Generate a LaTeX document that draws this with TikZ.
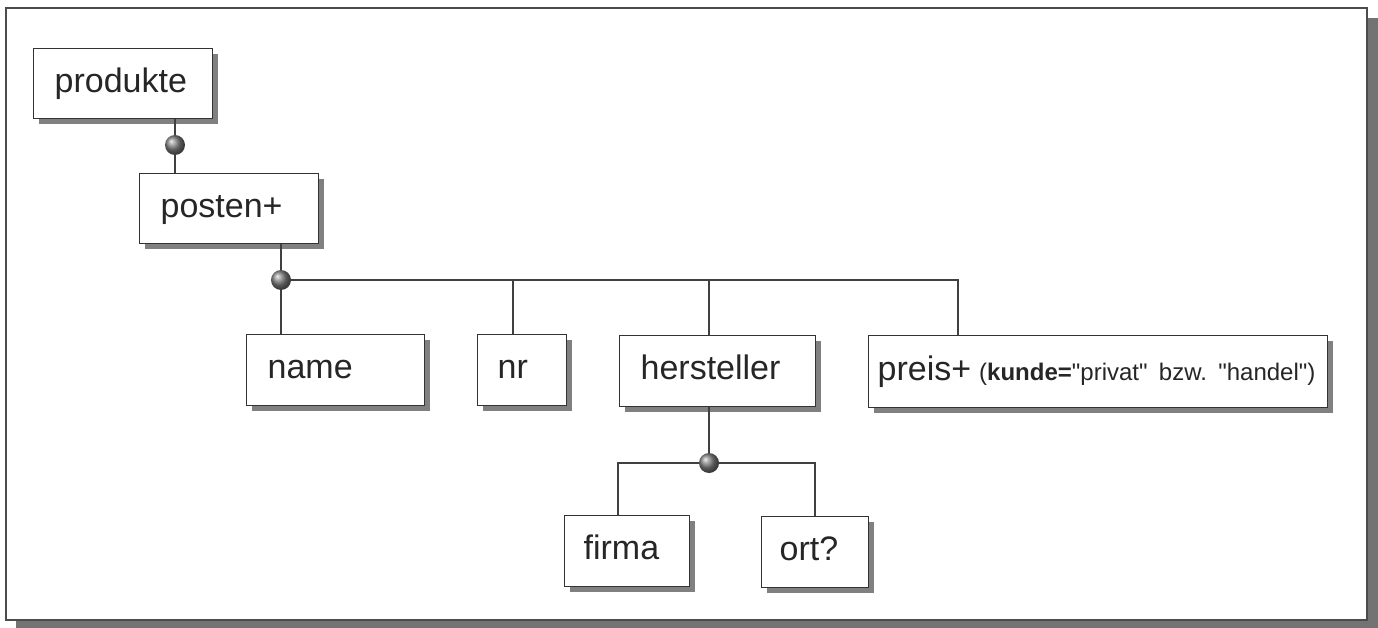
\documentclass[tikz,border=0pt]{standalone}
\usepackage{fontspec}
\newfontfamily\lab{Liberation Sans}
\usetikzlibrary{shadows}
\frenchspacing
\begin{document}
\begin{tikzpicture}[x=1pt,y=-1pt,
  elbox/.style={draw=black!80, line width=1.3pt, fill=white, rectangle, anchor=north west,
    inner ysep=0pt, inner xsep=21pt, align=left, text=black!85,
    font=\lab\fontsize{34}{40}\selectfont, text height=24pt, text depth=7pt,
    drop shadow={shadow xshift=5pt, shadow yshift=-5pt, fill=black!50, opacity=1}},
  conn/.style={draw=black!75, line width=1.4pt},
  ballj/.style={shading=ball, ball color=black!50}]
\useasboundingbox (0,0) rectangle (1378,628);
% outer frame with shadow
\fill[black!55] (16,18) rectangle (1378,628);
\draw[fill=white, draw=black!70, line width=1.5pt] (6,8) rectangle (1367,620);
% element boxes
\node[elbox, minimum width=179pt, minimum height=70pt, text width=137pt] (produkte) at (33,48) {produkte};
\node[elbox, minimum width=179pt, minimum height=70pt, text width=137pt] (posten) at (139,173) {posten+};
\node[elbox, minimum width=178pt, minimum height=71pt, text width=136pt] (name) at (246,334) {name};
\node[elbox, minimum width=89pt, minimum height=71pt, text width=49pt, inner xsep=20pt] (nr) at (477,334) {nr};
\node[elbox, minimum width=196pt, minimum height=71pt, text width=154pt] (hersteller) at (619,335) {hersteller};
\node[elbox, minimum width=459pt, minimum height=72pt, text width=441pt, inner xsep=9pt] (preis) at (868,335)
  {\mbox{preis+\hspace{8pt}{\fontsize{24}{28}\selectfont(\textbf{kunde=}"privat" bzw. "handel")}}};
\node[elbox, minimum width=125pt, minimum height=71pt, text width=87pt, inner xsep=19pt] (firma) at (564,515) {firma};
\node[elbox, minimum width=107pt, minimum height=71pt, text width=71pt, inner xsep=18pt] (ort) at (761,516) {ort?};
% junction points
\coordinate (j1) at (175,145);
\coordinate (j2) at (281,280);
\coordinate (c2) at (513,280);
\coordinate (c3) at (709,280);
\coordinate (c4) at (958,280);
\coordinate (j3) at (709,463);
\coordinate (f1) at (618,463);
\coordinate (o1) at (815,463);
% connectors
\draw[conn] (produkte.south -| j1) -- (j1) -- (posten.north -| j1);
\draw[conn] (posten.south -| j2) -- (j2) -- (name.north -| j2);
\draw[conn] (j2) -- (c4) -- (c4 |- preis.north);
\draw[conn] (c2) -- (c2 |- nr.north);
\draw[conn] (c3) -- (c3 |- hersteller.north);
\draw[conn] (hersteller.south -| j3) -- (j3);
\draw[conn] (f1 |- firma.north) -- (f1) -- (o1) -- (o1 |- ort.north);
% balls
\shade[ballj] (j1) circle (10pt);
\shade[ballj] (j2) circle (10pt);
\shade[ballj] (j3) circle (10pt);
\end{tikzpicture}
\end{document}
